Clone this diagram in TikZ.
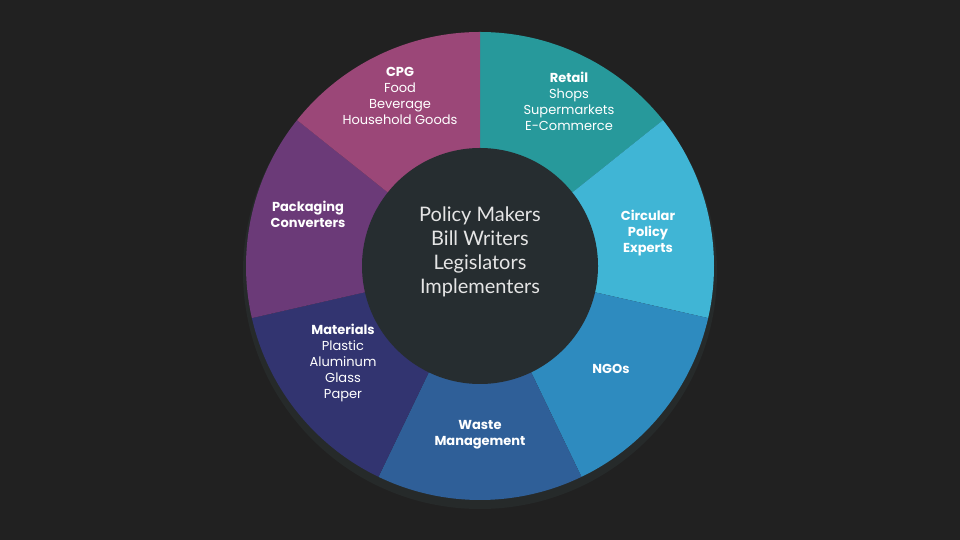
\documentclass[tikz,border=0pt]{standalone}
\usepackage{fontspec}
\setmainfont{Poppins}
\newfontfamily\hubfont{Lato}
\usepackage{xcolor}
\usepackage{tikz}
\definecolor{bgdark}{HTML}{212121}
\definecolor{rimdark}{HTML}{262A2A}
\definecolor{hubcol}{HTML}{262D30}
\definecolor{cpgcol}{HTML}{9B4778}
\definecolor{retailcol}{HTML}{27999B}
\definecolor{circcol}{HTML}{40B5D5}
\definecolor{ngocol}{HTML}{2E8BBF}
\definecolor{wastecol}{HTML}{2F5F98}
\definecolor{matcol}{HTML}{323470}
\definecolor{packcol}{HTML}{6B3A78}

\begin{document}
\begin{tikzpicture}[x=1pt,y=1pt,
  seglabel/.style={text=white,align=center,font=\fontsize{13}{16}\selectfont},
  hublabel/.style={text=white!90!black,align=center,font=\hubfont\fontsize{20}{24}\selectfont}]
  \fill[bgdark] (0,0) rectangle (960,540);
  % soft rim, shifted down a little
  \fill[rimdark] (480,268) circle (237);
  % ring segments, clockwise from the top
  \fill[retailcol] (480,274) -- ++(38.57:234) arc[start angle=38.57,end angle=90,radius=234] -- cycle;
  \fill[circcol] (480,274) -- ++(-12.86:234) arc[start angle=-12.86,end angle=38.57,radius=234] -- cycle;
  \fill[ngocol] (480,274) -- ++(-64.29:234) arc[start angle=-64.29,end angle=-12.86,radius=234] -- cycle;
  \fill[wastecol] (480,274) -- ++(-115.71:234) arc[start angle=-115.71,end angle=-64.29,radius=234] -- cycle;
  \fill[matcol] (480,274) -- ++(-167.14:234) arc[start angle=-167.14,end angle=-115.71,radius=234] -- cycle;
  \fill[packcol] (480,274) -- ++(141.43:234) arc[start angle=141.43,end angle=192.86,radius=234] -- cycle;
  \fill[cpgcol] (480,274) -- ++(90:234) arc[start angle=90,end angle=141.43,radius=234] -- cycle;
  \fill[hubcol] (480,274) circle (118);
  % labels
  \node[seglabel] (cpg) at (400,444) {\textbf{CPG}\\Food\\Beverage\\Household Goods};
  \node[seglabel] (retail) at (569,439) {\textbf{Retail}\\Shops\\Supermarkets\\E-Commerce};
  \node[seglabel] (circular) at (648,307) {\textbf{Circular}\\\textbf{Policy}\\\textbf{Experts}};
  \node[seglabel] (ngos) at (611,171) {\textbf{NGOs}};
  \node[seglabel] (waste) at (480,105) {\textbf{Waste}\\\textbf{Management}};
  \node[seglabel] (materials) at (343,177) {\textbf{Materials}\\Plastic\\Aluminum\\Glass\\Paper};
  \node[seglabel] (packaging) at (308,326) {\textbf{Packaging}\\\textbf{Converters}};
  \node[hublabel] (hub) at (480,288) {Policy Makers\\Bill Writers\\Legislators\\Implementers};
\end{tikzpicture}
\end{document}
